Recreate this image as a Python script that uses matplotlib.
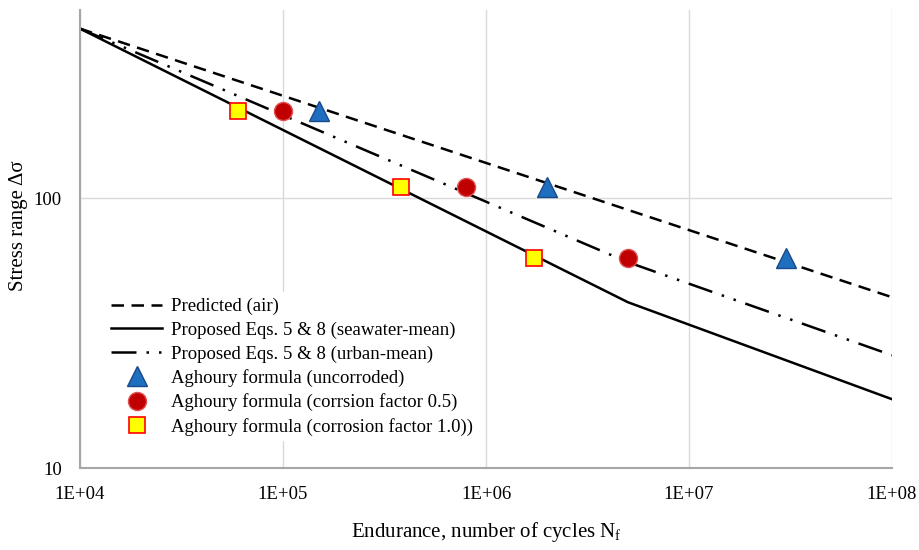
import matplotlib
matplotlib.use("Agg")
import matplotlib.pyplot as plt
from matplotlib.ticker import FixedLocator, NullLocator

plt.rcParams['font.family'] = ['Liberation Serif', 'DejaVu Serif']
plt.rcParams['mathtext.fontset'] = 'custom'
plt.rcParams['mathtext.rm'] = 'Liberation Serif'

# S-N curves
air_N = [1e4, 1e8]
air_S = [426, 43]
sea_N = [1e4, 5e6, 1e8]
sea_S = [426, 41.2, 18.0]
urban_N = [1e4, 5e6, 1e8]
urban_S = [426, 58, 26.2]

# Aghoury formula points
unc_N = [1.5e5, 2.0e6, 3.0e7]
unc_S = [210, 110, 60]
c05_N = [1.0e5, 8.0e5, 5.0e6]
c05_S = [210, 110, 60]
c10_N = [6.0e4, 3.8e5, 1.72e6]
c10_S = [210, 110, 60]

xticks = [1e4, 1e5, 1e6, 1e7, 1e8]
xlabels = ['1E+04', '1E+05', '1E+06', '1E+07', '1E+08']

fig = plt.figure(figsize=(9.2, 5.5), dpi=100)
ax = fig.add_axes([0.087, 0.149, 0.8826, 0.833])

ax.plot(air_N, air_S, color='black', lw=1.8, ls=(0, (5, 3)), label='Predicted (air)')
ax.plot(sea_N, sea_S, color='black', lw=1.8, ls='-', label='Proposed Eqs. 5 & 8 (seawater-mean)')
ax.plot(urban_N, urban_S, color='black', lw=1.8, ls=(0, (10, 4, 1, 4, 1, 4)),
        label='Proposed Eqs. 5 & 8 (urban-mean)')
ax.plot(unc_N, unc_S, ls='none', marker='^', ms=14, mfc='#1f6fc0', mec='#1a4a8a', mew=1,
        label='Aghoury formula (uncorroded)')
ax.plot(c05_N, c05_S, ls='none', marker='o', ms=13, mfc='#c00000', mec='#e05050', mew=1,
        label='Aghoury formula (corrsion factor 0.5)')
ax.plot(c10_N, c10_S, ls='none', marker='s', ms=11, mfc='#ffff00', mec='#ff0000', mew=1.2,
        label='Aghoury formula (corrosion factor 1.0))')

ax.set_xscale('log')
ax.set_yscale('log')
ax.set_xlim(1e4, 1e8)
ax.set_ylim(10, 500)
ax.xaxis.set_major_locator(FixedLocator(xticks))
ax.set_xticklabels(xlabels)
ax.xaxis.set_minor_locator(NullLocator())
ax.yaxis.set_major_locator(FixedLocator([10, 100]))
ax.set_yticklabels(['10', '100'])
ax.yaxis.set_minor_locator(NullLocator())
ax.tick_params(length=0, labelsize=13.5, pad=13)

ax.grid(True, color='#d9d9d9', lw=1)
ax.set_axisbelow(True)
for s in ['top', 'right']:
    ax.spines[s].set_visible(False)
for s in ['left', 'bottom']:
    ax.spines[s].set_color('#a6a6a6')
    ax.spines[s].set_linewidth(1.5)

ax.set_xlabel('Endurance, number of cycles N$_\\mathrm{f}$', fontsize=15, labelpad=12)
ax.set_ylabel('Stress range Δσ', fontsize=15)
ax.yaxis.set_label_coords(-0.064, 0.53)

leg = ax.legend(loc='lower left', bbox_to_anchor=(0.02, 0.038), fontsize=13.5,
                frameon=True, fancybox=False, handlelength=2.7, labelspacing=0.34,
                borderpad=0.3, handletextpad=0.5)
leg.get_frame().set_edgecolor('none')
leg.get_frame().set_facecolor('white')
leg.get_frame().set_alpha(1)

fig.savefig('out.png', dpi=100)
